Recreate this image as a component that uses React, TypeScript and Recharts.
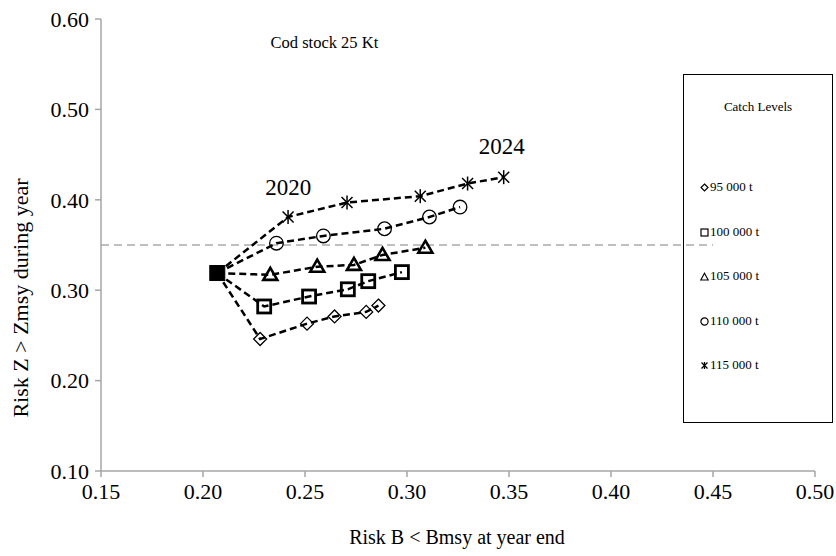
import React from 'react';
import { ScatterChart, Scatter, XAxis, YAxis, ReferenceLine, ReferenceDot } from 'recharts';

const FONT = '"Liberation Serif", "Times New Roman", serif';

const xTicks = [0.15, 0.2, 0.25, 0.3, 0.35, 0.4, 0.45, 0.5];
const yTicks = [0.1, 0.2, 0.3, 0.4, 0.5, 0.6];

// 2019 starting point shared by every catch level
const startPoint = { x: 0.207, y: 0.319 };

// 2020 .. 2024
const catch95 = [
  { x: 0.228, y: 0.246 },
  { x: 0.251, y: 0.263 },
  { x: 0.2645, y: 0.271 },
  { x: 0.28, y: 0.276 },
  { x: 0.286, y: 0.283 },
];
const catch100 = [
  { x: 0.23, y: 0.282 },
  { x: 0.252, y: 0.293 },
  { x: 0.271, y: 0.301 },
  { x: 0.281, y: 0.31 },
  { x: 0.2975, y: 0.32 },
];
const catch105 = [
  { x: 0.233, y: 0.317 },
  { x: 0.256, y: 0.326 },
  { x: 0.274, y: 0.328 },
  { x: 0.288, y: 0.339 },
  { x: 0.309, y: 0.347 },
];
const catch110 = [
  { x: 0.236, y: 0.352 },
  { x: 0.259, y: 0.36 },
  { x: 0.289, y: 0.368 },
  { x: 0.311, y: 0.381 },
  { x: 0.326, y: 0.392 },
];
const catch115 = [
  { x: 0.2417, y: 0.381 },
  { x: 0.2706, y: 0.397 },
  { x: 0.3065, y: 0.404 },
  { x: 0.3297, y: 0.418 },
  { x: 0.3474, y: 0.425 },
];

const seriesNames = ['95 000 t', '100 000 t', '105 000 t', '110 000 t', '115 000 t'];

const withStart = (pts: { x: number; y: number }[]) => [{ ...startPoint, start: true }, ...pts];

const lineStyle = { stroke: '#000', strokeWidth: 2.5, strokeDasharray: '7 4' };

type P = { cx?: number; cy?: number; payload?: any };

function Diamond({ cx = 0, cy = 0, payload }: P) {
  if (payload?.start) return <g />;
  const r = 6.5;
  return <path d={`M${cx},${cy - r}L${cx + r},${cy}L${cx},${cy + r}L${cx - r},${cy}Z`} fill="none" stroke="#000" strokeWidth={1.3} />;
}
function Square({ cx = 0, cy = 0, payload }: P) {
  if (payload?.start) return <g />;
  const h = 6.5;
  return <rect x={cx - h} y={cy - h} width={h * 2} height={h * 2} fill="none" stroke="#000" strokeWidth={2.8} />;
}
function Triangle({ cx = 0, cy = 0, payload }: P) {
  if (payload?.start) return <g />;
  return <path d={`M${cx},${cy - 7}L${cx + 7},${cy + 5}L${cx - 7},${cy + 5}Z`} fill="none" stroke="#000" strokeWidth={2.6} />;
}
function Circle({ cx = 0, cy = 0, payload }: P) {
  if (payload?.start) return <g />;
  return <circle cx={cx} cy={cy} r={6.8} fill="none" stroke="#000" strokeWidth={1.3} />;
}
function Star({ cx = 0, cy = 0, payload }: P) {
  if (payload?.start) return <g />;
  const a = 5.5;
  return (
    <g stroke="#000" strokeWidth={1.5}>
      <line x1={cx - a} y1={cy - a} x2={cx + a} y2={cy + a} />
      <line x1={cx - a} y1={cy + a} x2={cx + a} y2={cy - a} />
      <line x1={cx} y1={cy - 7} x2={cx} y2={cy + 7} />
    </g>
  );
}
function StartSquare({ cx = 0, cy = 0 }: P) {
  return <rect x={cx - 7.5} y={cy - 7.5} width={15} height={15} fill="#000" stroke="#000" strokeWidth={1} />;
}

function XTick({ x, y, payload }: any) {
  return (
    <text x={x} y={y} dy="0.71em" textAnchor="middle" fill="#000" fontSize={22} fontFamily={FONT}>
      {Number(payload.value).toFixed(2)}
    </text>
  );
}
function YTick({ x, y, payload }: any) {
  return (
    <text x={x} y={y} dy="0.355em" textAnchor="end" fill="#000" fontSize={22} fontFamily={FONT}>
      {Number(payload.value).toFixed(2)}
    </text>
  );
}

function LegendMark({ kind }: { kind: number }) {
  const s = 'black';
  return (
    <svg width={9} height={9} style={{ marginRight: 1 }}>
      {kind === 0 && <path d="M4.5,1L8,4.5L4.5,8L1,4.5Z" fill="none" stroke={s} strokeWidth={1.2} />}
      {kind === 1 && <rect x={1} y={1} width={7} height={7} fill="none" stroke={s} strokeWidth={1.2} />}
      {kind === 2 && <path d="M4.5,1.2L8.2,8L0.8,8Z" fill="none" stroke={s} strokeWidth={1.1} />}
      {kind === 3 && <circle cx={4.5} cy={4.5} r={3.6} fill="none" stroke={s} strokeWidth={1.2} />}
      {kind === 4 && (
        <g stroke={s} strokeWidth={1.3}>
          <line x1={1.5} y1={1.5} x2={7.5} y2={7.5} />
          <line x1={1.5} y1={7.5} x2={7.5} y2={1.5} />
          <line x1={4.5} y1={1} x2={4.5} y2={8} />
        </g>
      )}
    </svg>
  );
}

const legendRows = [186, 231, 275, 320, 364];

export default function App() {
  const annot = (value: string, size: number) => ({ value, position: 'center' as const, fill: '#000', fontSize: size, fontFamily: FONT });
  return (
    <div style={{ position: 'absolute', left: 0, top: 0, width: 836, height: 556, background: '#fff', fontFamily: FONT }}>
      <ScatterChart width={836} height={556} margin={{ top: 19, right: 21, bottom: 45, left: 41 }} style={{ fontFamily: FONT }}>
        <XAxis
          type="number"
          dataKey="x"
          domain={[0.15, 0.5]}
          ticks={xTicks}
          tick={<XTick />}
          stroke="#a6a6a6"
          strokeWidth={1.5}
          tickSize={6}
          tickMargin={6}
          height={40}
          interval={0}
        />
        <YAxis
          type="number"
          dataKey="y"
          domain={[0.1, 0.6]}
          ticks={yTicks}
          tick={<YTick />}
          stroke="#a6a6a6"
          strokeWidth={1.5}
          tickSize={6}
          tickMargin={6}
          width={60}
          interval={0}
        />
        <ReferenceLine
          segment={[{ x: 0.15, y: 0.35 }, { x: 0.45, y: 0.35 }]}
          stroke="#bfbfbf"
          strokeWidth={2}
          strokeDasharray="8 5"
        />
        <Scatter name={seriesNames[0]} data={withStart(catch95)} line={lineStyle} lineType="joint" shape={Diamond} isAnimationActive={false} />
        <Scatter name={seriesNames[1]} data={withStart(catch100)} line={lineStyle} lineType="joint" shape={Square} isAnimationActive={false} />
        <Scatter name={seriesNames[2]} data={withStart(catch105)} line={lineStyle} lineType="joint" shape={Triangle} isAnimationActive={false} />
        <Scatter name={seriesNames[3]} data={withStart(catch110)} line={lineStyle} lineType="joint" shape={Circle} isAnimationActive={false} />
        <Scatter name={seriesNames[4]} data={withStart(catch115)} line={lineStyle} lineType="joint" shape={Star} isAnimationActive={false} />
        <Scatter name="start" data={[startPoint]} shape={StartSquare} isAnimationActive={false} />
        <ReferenceDot x={0.2418} y={0.414} r={0} fill="none" stroke="none" label={annot('2020', 23)} />
        <ReferenceDot x={0.3465} y={0.4595} r={0} fill="none" stroke="none" label={annot('2024', 23)} />
        <ReferenceDot x={0.2595} y={0.5746} r={0} fill="none" stroke="none" label={annot('Cod stock 25 Kt', 16.5)} />
      </ScatterChart>

      <div
        style={{
          position: 'absolute',
          left: 21,
          top: 298,
          transform: 'translate(-50%, -50%) rotate(-90deg)',
          whiteSpace: 'nowrap',
          fontSize: 22,
          color: '#000',
        }}
      >
        Risk Z &gt; Zmsy during year
      </div>
      <div
        style={{
          position: 'absolute',
          left: 457,
          top: 537,
          transform: 'translate(-50%, -50%)',
          whiteSpace: 'nowrap',
          fontSize: 20,
          color: '#000',
        }}
      >
        Risk B &lt; Bmsy at year end
      </div>

      <div
        style={{
          position: 'absolute',
          left: 683,
          top: 74,
          width: 150,
          height: 349,
          border: '1.5px solid #000',
          boxSizing: 'border-box',
        }}
      >
        <div style={{ position: 'absolute', top: 31, left: 0, right: 0, textAlign: 'center', fontSize: 13, lineHeight: '1', transform: 'translateY(-50%)' }}>
          Catch Levels
        </div>
        {seriesNames.map((name, i) => (
          <div
            key={name}
            style={{
              position: 'absolute',
              left: 16,
              top: legendRows[i] - 74,
              transform: 'translateY(-50%)',
              display: 'flex',
              alignItems: 'center',
              fontSize: 13,
              whiteSpace: 'nowrap',
            }}
          >
            <LegendMark kind={i} />
            {name}
          </div>
        ))}
      </div>
    </div>
  );
}
